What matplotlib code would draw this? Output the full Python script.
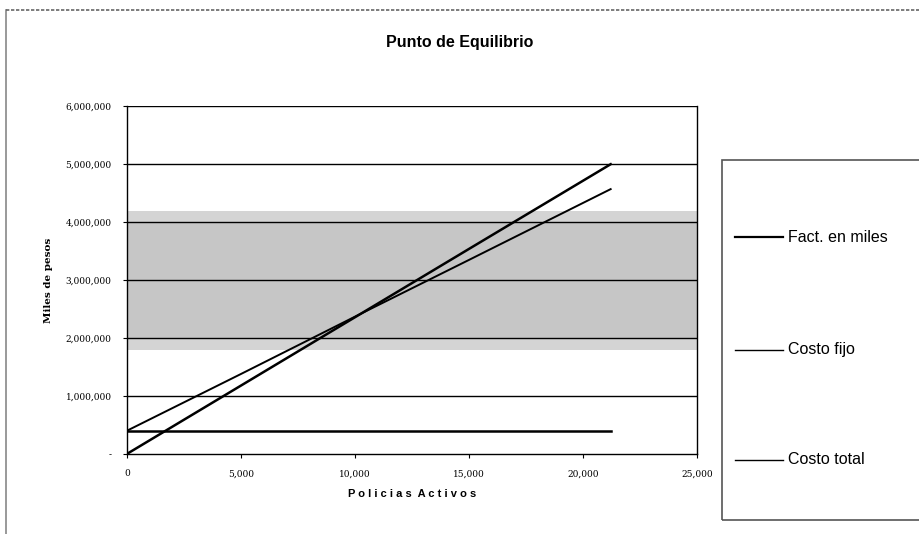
import matplotlib
matplotlib.use("Agg")
import matplotlib.pyplot as plt
from matplotlib.patches import Rectangle
from matplotlib.lines import Line2D
from matplotlib.ticker import FuncFormatter

# data
policias = [0, 5000, 10000, 15000, 21200]
facturacion = [0, 1180000, 2360000, 3540000, 5000000]
costo_fijo = [400000, 400000, 400000, 400000, 400000]
costo_total = [400000, 1380000, 2370000, 3350000, 4570000]
series_names = ["Fact. en miles", "Costo fijo", "Costo total"]
x_ticks = [0, 5000, 10000, 15000, 20000, 25000]
y_ticks = [0, 1000000, 2000000, 3000000, 4000000, 5000000, 6000000]

fig = plt.figure(figsize=(9.2, 5.34), dpi=100)
plt.rcParams['font.family'] = ['Liberation Sans', 'DejaVu Sans']

# outer border (scanned frame, only top/left visible)
fig.add_artist(Line2D([0.007, 0.007], [0.0, 0.981], color="#888888", lw=1.2))
fig.add_artist(Line2D([0.007, 1.0], [0.981, 0.981], color="#666666", lw=1.2, ls=(0, (2, 1))))

ax = fig.add_axes([0.138, 0.150, 0.620, 0.651])

# grey scan blotch behind the gridlines
ax.axhspan(1800000, 4200000, color="#d4d4d4", zorder=0, lw=0)
ax.axhspan(2000000, 4000000, color="#c6c6c6", zorder=0, lw=0)

for y in y_ticks[1:]:
    ax.axhline(y, color="black", lw=1.0, zorder=1)

ax.plot(policias, facturacion, color="black", lw=1.8, zorder=3)
ax.plot(policias, costo_fijo, color="black", lw=1.8, zorder=3)
ax.plot(policias, costo_total, color="black", lw=1.4, zorder=3)

ax.set_xlim(0, 25000)
ax.set_ylim(0, 6000000)
ax.set_xticks(x_ticks)
ax.set_yticks(y_ticks)
ax.xaxis.set_major_formatter(FuncFormatter(lambda v, p: f"{int(v):,}"))
ax.yaxis.set_major_formatter(FuncFormatter(lambda v, p: "-" if v == 0 else f"{int(v):,}"))
ax.tick_params(labelsize=6.5, length=3, width=0.8, pad=8,
               labelfontfamily="DejaVu Serif")
for s in ["top"]:
    ax.spines[s].set_visible(False)
for s in ["left", "bottom", "right"]:
    ax.spines[s].set_linewidth(1.0)

ax.set_xlabel("P o l i c i a s  A c t i v o s", fontsize=8, fontweight="bold", labelpad=8)
ax.set_ylabel("Miles de pesos", fontsize=7.5, fontweight="bold",
              family="DejaVu Serif", labelpad=9)

fig.text(0.5, 0.92, "Punto de Equilibrio", ha="center", va="center",
         fontsize=11.5, fontweight="bold")

# legend box drawn by hand to reach off the right edge
fig.add_artist(Rectangle((0.785, 0.026), 0.3, 0.675, transform=fig.transFigure,
                         fill=False, edgecolor="#555555", lw=1.2))
leg_y = [0.556, 0.345, 0.139]
for name, yy, lw in zip(series_names, leg_y, [1.6, 1.0, 1.0]):
    fig.add_artist(Line2D([0.799, 0.851], [yy, yy], color="black", lw=lw))
    fig.text(0.856, yy, name, fontsize=11.5, va="center", ha="left")

fig.savefig("out.png", dpi=100)
